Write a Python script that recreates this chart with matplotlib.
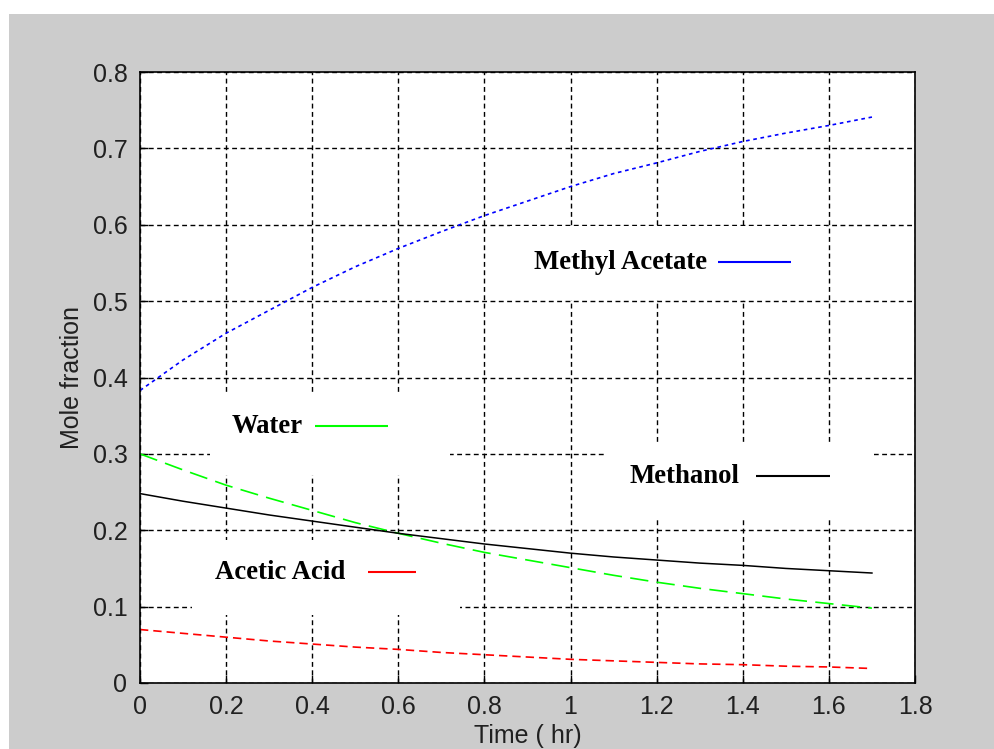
import matplotlib
matplotlib.use("Agg")
import matplotlib.pyplot as plt
from matplotlib.patches import Rectangle

# ---- data ----
time_hr = [0.0, 0.1, 0.2, 0.3, 0.4, 0.5, 0.6, 0.7, 0.8, 0.9,
           1.0, 1.1, 1.2, 1.3, 1.4, 1.5, 1.6, 1.7]
methyl_acetate = [0.383, 0.423, 0.458, 0.488, 0.518, 0.545, 0.569, 0.591, 0.612, 0.631,
                  0.650, 0.667, 0.681, 0.696, 0.709, 0.720, 0.730, 0.741]
water = [0.300, 0.279, 0.259, 0.242, 0.226, 0.210, 0.196, 0.183, 0.171, 0.161,
         0.151, 0.141, 0.132, 0.124, 0.117, 0.110, 0.104, 0.098]
methanol = [0.248, 0.238, 0.229, 0.220, 0.212, 0.204, 0.196, 0.189, 0.182, 0.176,
            0.170, 0.165, 0.161, 0.157, 0.154, 0.150, 0.147, 0.144]
acetic_acid = [0.070, 0.065, 0.060, 0.055, 0.051, 0.047, 0.044, 0.040, 0.037, 0.034,
               0.031, 0.029, 0.027, 0.025, 0.024, 0.022, 0.021, 0.019]

x_ticks = [0, 0.2, 0.4, 0.6, 0.8, 1.0, 1.2, 1.4, 1.6, 1.8]
x_tick_labels = ["0", "0.2", "0.4", "0.6", "0.8", "1", "1.2", "1.4", "1.6", "1.8"]
y_ticks = [0, 0.1, 0.2, 0.3, 0.4, 0.5, 0.6, 0.7, 0.8]
y_tick_labels = ["0", "0.1", "0.2", "0.3", "0.4", "0.5", "0.6", "0.7", "0.8"]

tick_font = ["Liberation Sans Narrow", "Liberation Sans", "DejaVu Sans"]
label_font = ["Liberation Serif", "DejaVu Serif"]

W, H = 994, 749
fig = plt.figure(figsize=(W / 100, H / 100), dpi=100)
fig.patch.set_facecolor("white")
fig.add_artist(Rectangle((9 / W, 0), 1, (H - 14) / H, transform=fig.transFigure,
                         facecolor="#cccccc", edgecolor="none", zorder=-10))

ax = fig.add_axes([140 / W, 66 / H, 775 / W, 611 / H])
ax.set_facecolor("white")
ax.set_xlim(0, 1.8)
ax.set_ylim(0, 0.8)

ax.plot(time_hr, methyl_acetate, color="#0000ff", lw=1.2, linestyle=(0, (2.2, 2.2)), zorder=7)
ax.plot(time_hr, water, color="#00ff00", lw=1.2, linestyle=(0, (11, 5)), zorder=7)
ax.plot(time_hr, methanol, color="black", lw=1.1, linestyle="-", zorder=7)
ax.plot(time_hr, acetic_acid, color="#ff0000", lw=1.2, linestyle=(0, (5, 3)), zorder=7)

ax.set_xticks(x_ticks)
ax.set_xticklabels(x_tick_labels)
ax.set_yticks(y_ticks)
ax.set_yticklabels(y_tick_labels)
ax.tick_params(direction="in", length=6, width=1.0, colors="black",
               labelcolor="#202020", labelsize=18, pad=9)
for lab in ax.get_xticklabels() + ax.get_yticklabels():
    lab.set_family(tick_font)

ax.grid(True, color="black", lw=1.0, linestyle=(0, (3.5, 2.5)))
ax.set_axisbelow(True)
for s in ax.spines.values():
    s.set_linewidth(1.2)
    s.set_color("black")
    s.set_zorder(8)

ax.set_xlabel("Time ( hr)", family=tick_font, fontsize=18, color="#202020", labelpad=3)
ax.set_ylabel("Mole fraction", family=tick_font, fontsize=18, color="#202020", labelpad=6)

# ---- text boxes with legend lines (data coords) ----
boxes = [
    # label, colour, box (x0, y0, x1, y1), text x, text y, line x0, line x1
    ("Methyl Acetate", "#0000ff", (0.860, 0.501, 1.593, 0.598), 0.914, 0.551, 1.342, 1.512),
    ("Methanol", "black", (1.081, 0.213, 1.705, 0.3115), 1.137, 0.271, 1.430, 1.602),
    ("Water", "#00ff00", (0.163, 0.272, 0.721, 0.377), 0.212, 0.336, 0.407, 0.577),
    ("Acetic Acid", "#ff0000", (0.121, 0.089, 0.744, 0.187), 0.174, 0.145, 0.530, 0.640),
]
for label, col, (bx0, by0, bx1, by1), tx, ty, lx0, lx1 in boxes:
    ax.add_patch(Rectangle((bx0, by0), bx1 - bx0, by1 - by0, facecolor="white",
                           edgecolor="none", zorder=5))
    ax.text(tx, ty, label, family=label_font, fontweight="bold", fontsize=19.3,
            color="black", ha="left", va="center", zorder=6)
    ax.plot([lx0, lx1], [ty, ty], color=col, lw=1.5, solid_capstyle="butt", zorder=6)

fig.savefig("out.png", dpi=100, facecolor=fig.get_facecolor())
